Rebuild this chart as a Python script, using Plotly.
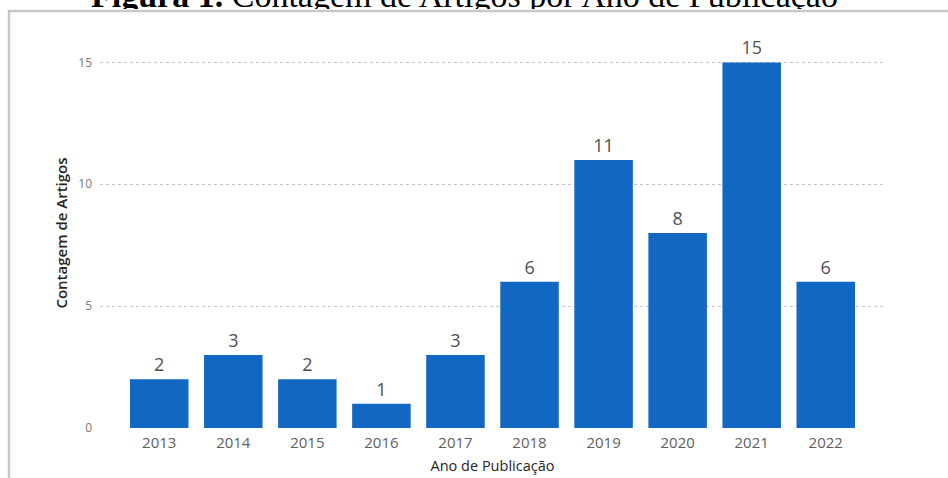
import plotly.graph_objects as go

# Article counts per publication year
anos = ["2013", "2014", "2015", "2016", "2017", "2018", "2019", "2020", "2021", "2022"]
contagem = [2, 3, 2, 1, 3, 6, 11, 8, 15, 6]
y_ticks = [0, 5, 10, 15]

titulo_html = "<b>Figura 1.</b> Contagem de Artigos por Ano de Publicação"

BAR_COLOR = "#1167C1"
FONT_UI = "Segoe UI, Open Sans, Noto Sans, sans-serif"

# Plot area in pixels
W, H = 948, 478
plot_l, plot_r, plot_t, plot_b = 100, 885, 38, 428
ph = plot_b - plot_t
pw = plot_r - plot_l


def py(pixel_y):
    """Convert a pixel row (from top) to paper y."""
    return (plot_b - pixel_y) / ph


def px(pixel_x):
    """Convert a pixel column to paper x."""
    return (pixel_x - plot_l) / pw


fig = go.Figure()

fig.add_trace(go.Bar(
    x=anos,
    y=contagem,
    marker=dict(color=BAR_COLOR, line=dict(width=0)),
    text=contagem,
    textposition="outside",
    textfont=dict(family=FONT_UI, size=18, color="#505050"),
    cliponaxis=False,
    width=0.79,
    hoverinfo="x+y",
))

fig.update_layout(
    width=W,
    height=H,
    margin=dict(l=plot_l, r=W - plot_r, t=plot_t, b=H - plot_b, autoexpand=False),
    paper_bgcolor="white",
    plot_bgcolor="white",
    showlegend=False,
    xaxis=dict(
        type="category",
        range=[-0.8, 9.8],
        automargin=False,
        showgrid=False,
        zeroline=False,
        showline=False,
        ticks="",
        tickfont=dict(family=FONT_UI, size=15, color="#605E5C"),
        ticklabelstandoff=4,
        title=dict(text="Ano de Publicação",
                   font=dict(family=FONT_UI, size=14.5, color="#252423", weight=500),
                   standoff=9),
    ),
    yaxis=dict(
        range=[0, 16],
        tickvals=y_ticks,
        automargin=False,
        showgrid=True,
        gridcolor="#C8C6C4",
        griddash="dot",
        gridwidth=1,
        zeroline=False,
        showline=False,
        ticks="",
        tickfont=dict(family=FONT_UI, size=12, color="#7A7876"),
        ticklabelstandoff=7,
        title=dict(text="Contagem de Artigos",
                   font=dict(family=FONT_UI, size=15, color="#252423", weight=600),
                   standoff=7),
    ),
)

# Card frame: grey border along the left and top edges
fig.add_shape(type="path", xref="paper", yref="paper",
              path="M {x0},{yb} L {x0},{yt} L {x1},{yt}".format(
                  x0=px(9), x1=px(960), yt=py(11), yb=py(490)),
              line=dict(color="#C8C8C8", width=2.5), layer="above")

# Figure caption above the card; its box ends at the card edge so the
# lower part of the glyphs is clipped there
fig.add_annotation(
    text=titulo_html,
    xref="paper", yref="paper",
    x=px(464), y=py(10),
    xanchor="center", yanchor="bottom",
    height=28, valign="middle",
    showarrow=False,
    borderpad=0,
    font=dict(family="Liberation Serif, Times New Roman, serif", size=34, color="#000000"),
)

fig.write_html("out.html")
